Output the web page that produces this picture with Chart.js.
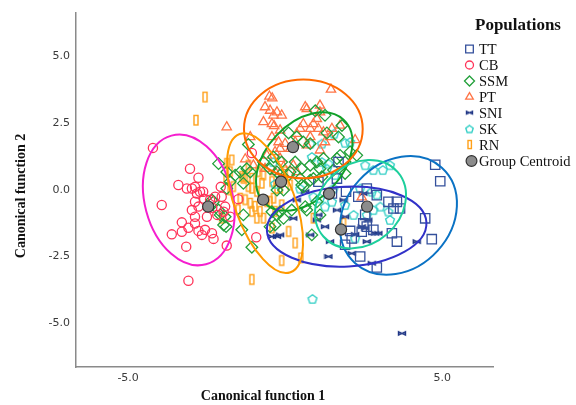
<!DOCTYPE html>
<html>
<head>
<meta charset="utf-8">
<script src="https://cdn.jsdelivr.net/npm/chart.js@4.4.1/dist/chart.umd.min.js"></script>
<style>
  html, body { margin: 0; padding: 0; background: #fff; }
  #wrap { width: 576px; height: 405px; }
</style>
</head>
<body>
<div id="wrap"><canvas id="chart" width="576" height="405"></canvas></div>
<script>
// Group order (datasets, ellipses, centroids, legend all follow it)
const GROUPS = ['TT', 'CB', 'SSM', 'PT', 'SNI', 'SK', 'RN'];
const X_TICKS = [-5, 5];
const Y_TICKS = [-5, -2.5, 0, 2.5, 5];

// Discriminant scores: [function 1, function 2]
const ptsTT = [[4.78, 0.94], [4.94, 0.32], [1.65, 0.42], [2.60, 0.05], [2.92, -0.20], [2.33, -0.26],
  [3.29, -0.45], [3.56, -0.45], [3.45, -0.70], [3.66, -0.70], [4.46, -1.07], [2.55, -0.94],
  [2.60, -1.38], [2.81, -1.50], [2.44, -1.57], [2.07, -1.54], [3.40, -1.63], [3.56, -1.94],
  [4.67, -1.85], [2.12, -1.82], [1.91, -2.06], [2.39, -2.50], [2.92, -2.91], [1.70, 1.04],
  [1.06, 0.30], [2.49, -1.26], [1.49, -0.14], [1.94, -0.07]];
const ptsCB = [[-4.21, 1.57], [-3.03, 0.79], [-3.40, 0.18], [-2.76, 0.45], [-2.97, 0.05], [-2.87, 0.11],
  [-2.71, -0.07], [-2.81, -0.14], [-3.13, 0.05], [-3.93, -0.57], [-2.05, 0.11], [-2.23, -0.26],
  [-2.02, -0.26], [-2.87, -0.45], [-2.76, -0.63], [-2.97, -0.76], [-2.49, -1.01], [-2.16, -0.94],
  [-1.96, -0.82], [-1.75, -1.01], [-2.87, -1.01], [-3.29, -1.22], [-2.87, -1.26], [-3.08, -1.42],
  [-3.29, -1.57], [-3.61, -1.67], [-2.76, -1.54], [-2.65, -1.69], [-2.55, -1.50], [-2.33, -1.63],
  [-2.28, -1.84], [-3.15, -2.13], [-1.86, -2.09], [-1.49, -0.35], [-0.92, -1.78], [-3.08, -3.41],
  [-1.06, 1.38], [-2.61, -0.07], [-2.39, -0.37], [-1.91, -0.63], [-2.32, -0.67], [-2.58, -0.34]];
const ptsSSM = [[-2.12, 0.98], [-1.17, 1.70], [-1.59, 0.55], [-1.22, 0.79], [-1.33, 0.24], [-1.86, 0.05],
  [-1.91, -1.01], [-1.88, -1.38], [-2.33, -0.38], [-2.12, -0.76], [-1.38, -1.50], [-1.06, -2.15],
  [-1.86, 0.67], [-1.43, 0.67], [-1.75, 0.30], [-1.33, -0.94], [-2.07, -0.94], [-2.28, -0.45],
  [-1.96, -1.32], [-0.26, -0.94], [-0.05, -0.01], [0.53, 0.18], [0.80, 0.36], [1.17, 0.49],
  [1.54, 0.74], [0.96, 2.96], [0.11, 2.13], [0.37, 1.98], [0.58, 1.79], [0.80, 1.73],
  [1.33, 2.13], [1.81, 2.41], [1.75, 1.29], [1.22, 1.17], [1.01, 1.04], [0.80, 0.92],
  [0.53, 0.79], [0.32, 1.04], [0.16, 0.67], [-0.11, 1.04], [-0.37, 1.23], [-0.69, 1.04],
  [-0.48, 0.79], [-0.16, 0.55], [-1.11, 0.67], [1.11, 0.79], [2.28, 1.29], [2.07, 1.42],
  [1.91, 1.04], [1.91, 0.61], [1.27, 2.79], [1.70, 1.98], [-0.26, 0.67], [0.11, 0.55],
  [0.48, 0.42], [0.90, 0.42], [1.65, 1.17], [0.58, 0.11], [-0.26, -0.01], [1.01, -0.45],
  [0.64, -0.63], [-0.16, -0.82], [-0.42, -0.82], [0.21, -0.76], [0.69, -0.76], [1.11, -0.94],
  [0.85, -1.69], [-0.48, -1.38], [-0.32, -1.32], [-0.05, -1.07]];
const ptsPT = [[1.46, 3.76], [-0.50, 3.50], [-0.41, 3.43], [-0.64, 3.10], [-0.48, 2.97], [-0.26, 2.91],
  [-0.37, 2.79], [-0.69, 2.54], [-0.42, 2.47], [-0.35, 2.39], [0.69, 3.03], [1.11, 3.16],
  [1.11, 2.91], [0.90, 2.47], [0.58, 2.47], [0.80, 2.29], [1.06, 2.29], [1.22, 2.16],
  [0.48, 2.29], [0.37, 2.10], [-0.16, 2.23], [-0.42, 1.98], [-0.21, 1.79], [0.00, 1.73],
  [0.32, 1.79], [0.16, 1.54], [-0.16, 1.54], [-0.32, 1.42], [-0.58, 1.29], [-1.11, 1.98],
  [-1.27, 1.15], [-1.01, 0.92], [0.69, 1.67], [0.80, 1.98], [1.75, 2.41], [1.27, 1.79],
  [1.43, 1.98], [2.23, 1.87], [1.01, 2.66], [-0.16, 1.17], [-0.05, 0.86], [-0.32, 0.67],
  [0.37, 0.67], [-0.64, 0.79], [-1.86, 2.35], [2.44, -0.28], [0.64, 3.10], [1.49, 2.29],
  [1.11, 1.48], [0.26, 0.92], [-0.11, 2.79]];
const ptsSNI = [[1.65, -0.76], [1.27, -1.38], [1.01, -1.13], [2.65, -1.13], [2.44, -1.38], [2.55, -1.44],
  [2.97, -1.63], [2.23, -1.67], [2.60, -1.94], [1.38, -2.50], [2.12, -2.38], [2.76, -2.75],
  [4.19, -1.94], [1.86, -0.38], [2.49, -0.14], [0.64, -0.07], [1.06, -0.94], [0.26, -1.07],
  [-0.16, -1.69], [-0.42, -1.75], [-0.26, -1.75], [0.80, -1.69], [3.72, -5.38], [0.37, -0.38],
  [2.87, -1.63], [1.91, -1.01], [1.43, -1.94]];
const ptsSK = [[1.56, 2.10], [1.91, 1.76], [2.07, 1.79], [0.85, 1.23], [1.17, 1.04], [1.38, 0.98],
  [1.33, 0.79], [0.90, -0.26], [1.49, -0.45], [1.27, -0.63], [2.55, 0.92], [2.81, 0.74],
  [3.11, 0.74], [3.34, 0.92], [2.39, 0.05], [2.92, -0.18], [2.76, -0.07], [3.03, -0.63],
  [2.81, -0.76], [3.29, -0.82], [3.34, -1.13], [2.18, -0.94], [2.60, -0.94], [2.23, -1.82],
  [1.91, -0.57], [1.54, 0.05], [1.59, 0.55], [0.80, 1.73], [1.17, 1.73], [0.87, -4.09],
  [1.11, -0.32], [-0.38, 1.04], [-0.32, 0.22], [0.48, 0.04]];
const ptsRN = [[-2.55, 3.47], [-2.84, 2.60], [-1.86, 0.98], [-1.75, 0.67], [-1.70, 1.11], [-1.27, 0.49],
  [-1.17, 0.11], [-1.27, -0.38], [-1.11, -0.51], [-0.96, -0.63], [-0.80, -0.82], [-1.06, -0.82],
  [-0.90, -1.07], [-0.48, -0.45], [-2.02, -1.07], [-1.43, -0.32], [-1.17, 0.92], [-1.38, 0.49],
  [-1.06, 0.42], [-0.69, 0.55], [-0.42, 0.30], [-0.16, 0.05], [-1.06, 0.05], [-0.74, 0.24],
  [0.16, 0.18], [-1.65, 0.11], [-1.33, 0.42], [-0.90, -0.07], [-0.58, -0.45], [-0.26, 0.05],
  [-0.69, -1.07], [-0.42, -1.44], [0.11, -1.57], [0.32, -2.00], [-0.11, -2.66], [-1.06, -3.37],
  [0.50, -2.56], [-0.37, -0.32], [-0.11, -0.57], [-0.32, -0.82], [1.86, -1.26], [0.90, -1.07],
  [-1.75, -0.01], [-1.50, -0.75], [-1.88, 0.37], [0.00, 0.67], [-0.86, 0.67]];

// Group centroids, same order as GROUPS
const CENTROID_X = [2.61, -2.45, -0.13, 0.25, 1.78, 1.40, -0.70];
const CENTROID_Y = [-0.63, -0.63, 0.30, 1.60, -1.49, -0.15, -0.37];

// Hand-drawn ellipses in data units: [centre x, centre y, axis-1 dx, dy, axis-2 dx, dy]
const ELLIPSES = [
  [3.61, -0.96, 1.38, 1.79, 1.25, -1.32],
  [-3.07, -0.38, 0.55, -2.41, -1.35, -0.43],
  [0.61, 1.06, 1.25, 1.57, 0.89, -0.97],
  [0.58, 2.28, 1.89, 0, 0, 1.85],
  [1.96, -1.38, 2.54, 0.16, 0.07, -1.49],
  [2.40, -0.54, 1.18, 1.21, 0.84, -1.13],
  [-0.64, -0.50, 0.81, -2.59, -0.90, -0.38]
];

const POINTS = [ptsTT, ptsCB, ptsSSM, ptsPT, ptsSNI, ptsSK, ptsRN];
const MARK_COLORS = ['#34509c', '#ff3358', '#22a03a', '#ff7446', '#1e3585', '#33cfc6', '#ffa01a'];
const RING_COLORS = ['#0a72c4', '#f51ecf', '#10a028', '#ff6a00', '#3131c8', '#1dcf9c', '#ff9a00'];

function makeCanvas(w, h, draw) {
    const c = document.createElement('canvas');
    c.width = w;
    c.height = h;
    draw(c.getContext('2d'));
    return c;
}

// custom marker shapes that Chart.js does not have
function pentagonMark(scale) {
    const s = Math.ceil(12 * scale);
    return makeCanvas(s, s, g => {
        g.strokeStyle = MARK_COLORS[5];
        g.lineWidth = 1.4;
        g.beginPath();
        for (let i = 0; i < 5; i++) {
            const a = -Math.PI / 2 + i * 2 * Math.PI / 5;
            const px = s / 2 + 4.6 * scale * Math.cos(a), py = s / 2 + 0.4 + 4.6 * scale * Math.sin(a);
            if (i) g.lineTo(px, py); else g.moveTo(px, py);
        }
        g.closePath();
        g.stroke();
    });
}
function barMark(scale) {
    return makeCanvas(Math.ceil(8 * scale), Math.ceil(13 * scale), g => {
        g.strokeStyle = MARK_COLORS[6];
        g.lineWidth = 1.4;
        g.strokeRect(2, 1.5, 4 * scale, 9.5 * scale);
    });
}
function bowtieMark(scale) {
    return makeCanvas(Math.ceil(10 * scale), Math.ceil(7 * scale), g => {
        const w = 10 * scale, h = 7 * scale;
        g.strokeStyle = MARK_COLORS[4];
        g.lineWidth = 1.4;
        g.beginPath();
        g.moveTo(1.5, 1.8); g.lineTo(w / 2, h / 2); g.lineTo(1.5, h - 1.8); g.closePath();
        g.moveTo(w - 1.5, 1.8); g.lineTo(w / 2, h / 2); g.lineTo(w - 1.5, h - 1.8); g.closePath();
        g.stroke();
    });
}

const MARKS = [
    { style: 'rect', radius: 6.6 },
    { style: 'circle', radius: 4.6 },
    { style: 'rectRot', radius: 5.8 },
    { style: 'triangle', radius: 5.4 },
    { style: bowtieMark(1), radius: 5 },
    { style: pentagonMark(1), radius: 5 },
    { style: barMark(1), radius: 5 }
];
const LEGEND_MARKS = [
    { style: 'rect', radius: 5.4 },
    { style: 'circle', radius: 4 },
    { style: 'rectRot', radius: 5 },
    { style: 'triangle', radius: 4.4 },
    { style: bowtieMark(0.9), radius: 4 },
    { style: pentagonMark(0.85), radius: 4 },
    { style: barMark(0.85), radius: 4 }
];

const datasets = [{
    label: 'Group Centroid',
    data: CENTROID_X.map((x, i) => ({ x: x, y: CENTROID_Y[i] })),
    pointStyle: 'circle',
    pointRadius: 5.6,
    pointBackgroundColor: '#8c8c8c',
    pointBorderColor: '#333333',
    pointBorderWidth: 1.2
}];
GROUPS.forEach((g, i) => {
    datasets.push({
        label: g,
        data: POINTS[i].map(p => ({ x: p[0], y: p[1] })),
        pointStyle: MARKS[i].style,
        pointRadius: MARKS[i].radius,
        pointBackgroundColor: 'rgba(0,0,0,0)',
        pointBorderColor: MARK_COLORS[i],
        pointBorderWidth: 1.3
    });
});

const decorPlugin = {
    id: 'decor',
    // ellipses go over the group points but under the centroids
    afterDatasetDraw(chart, args) {
        if (args.index !== 1) return;
        const ctx = chart.ctx, xs = chart.scales.x, ys = chart.scales.y;
        ELLIPSES.forEach((e, i) => {
            const cx = xs.getPixelForValue(e[0]), cy = ys.getPixelForValue(e[1]);
            const ux = xs.getPixelForValue(e[0] + e[2]) - cx, uy = ys.getPixelForValue(e[1] + e[3]) - cy;
            const vx = xs.getPixelForValue(e[0] + e[4]) - cx, vy = ys.getPixelForValue(e[1] + e[5]) - cy;
            ctx.save();
            ctx.transform(ux, uy, vx, vy, cx, cy);
            ctx.beginPath();
            ctx.arc(0, 0, 1, 0, 2 * Math.PI);
            ctx.restore();
            ctx.save();
            ctx.strokeStyle = RING_COLORS[i];
            ctx.lineWidth = 2;
            ctx.stroke();
            ctx.restore();
        });
    },
    afterDraw(chart) {
        const ctx = chart.ctx;
        ctx.save();
        ctx.fillStyle = '#111';
        ctx.textBaseline = 'middle';
        ctx.textAlign = 'center';
        ctx.font = 'bold 14px "Liberation Serif"';
        ctx.fillText('Canonical function 1', 263, 396);
        ctx.save();
        ctx.translate(21, 196);
        ctx.rotate(-Math.PI / 2);
        ctx.fillText('Canonical function 2', 0, 0);
        ctx.restore();

        // legend
        ctx.textAlign = 'left';
        ctx.font = 'bold 17px "Liberation Serif"';
        ctx.fillText('Populations', 475, 26);
        ctx.font = '14.5px "Liberation Serif"';
        const labels = GROUPS.concat(['Group Centroid']);
        labels.forEach((lab, i) => {
            const y = 49 + i * 16;
            ctx.save();
            if (i < GROUPS.length) {
                ctx.strokeStyle = MARK_COLORS[i];
                ctx.fillStyle = 'rgba(0,0,0,0)';
                ctx.lineWidth = 1.3;
                Chart.helpers.drawPoint(ctx, {
                    pointStyle: LEGEND_MARKS[i].style, radius: LEGEND_MARKS[i].radius,
                    borderWidth: 1.3, rotation: 0
                }, 469.5, y);
            } else {
                ctx.strokeStyle = '#333';
                ctx.fillStyle = '#8c8c8c';
                ctx.lineWidth = 1.2;
                Chart.helpers.drawPoint(ctx, { pointStyle: 'circle', radius: 5.4, borderWidth: 1.2, rotation: 0 }, 471.5, y);
            }
            ctx.restore();
            ctx.fillText(lab, 479, y + 1);
        });
        ctx.restore();
    }
};

const axisBorder = { display: true, color: '#8a8a8a', width: 1.5 };

new Chart(document.getElementById('chart'), {
    type: 'scatter',
    data: { datasets: datasets },
    options: {
        responsive: false,
        animation: false,
        devicePixelRatio: 1,
        layout: { padding: { top: 10, right: 83, left: 0, bottom: 0 } },
        plugins: {
            legend: { display: false },
            tooltip: { enabled: false }
        },
        scales: {
            x: {
                type: 'linear',
                min: -6.66,
                max: 6.62,
                grid: { display: false, drawTicks: false },
                border: axisBorder,
                afterBuildTicks: axis => { axis.ticks = X_TICKS.map(v => ({ value: v })); },
                afterFit: axis => { axis.height = 38; },
                ticks: {
                    padding: 5,
                    color: '#3a3a3a',
                    font: { family: 'DejaVu Sans', size: 11 },
                    callback: v => v.toFixed(1)
                }
            },
            y: {
                type: 'linear',
                min: -6.64,
                max: 6.64,
                grid: { display: false, drawTicks: false },
                border: axisBorder,
                afterBuildTicks: axis => { axis.ticks = Y_TICKS.map(v => ({ value: v })); },
                afterFit: axis => { axis.width = 76; },
                ticks: {
                    padding: 6,
                    color: '#3a3a3a',
                    font: { family: 'DejaVu Sans', size: 11 },
                    callback: v => v.toFixed(1)
                }
            }
        }
    },
    plugins: [decorPlugin]
});
</script>
</body>
</html>
